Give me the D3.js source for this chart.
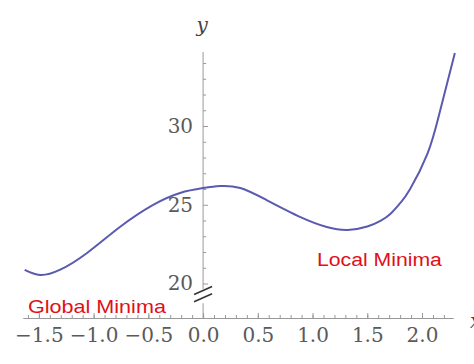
<!DOCTYPE html>
<html>
<head>
<meta charset="utf-8">
<script src="https://cdn.jsdelivr.net/npm/d3@7"></script>
<style>
    body { margin: 0; background: #fff; }
    .tick text { font-family: "DejaVu Serif", serif; font-size: 20px; fill: #5a5a5a; }
    .note { font-family: "Liberation Sans", Arial, sans-serif; fill: #e0101a; }
</style>
</head>
<body>
<svg id="vis"></svg>
<script>
// curve samples
var xValues = [-1.63, -1.49, -1.31, -1.06, -0.76, -0.46, -0.21, 0.0, 0.155, 0.34, 0.58, 0.89, 1.13, 1.32, 1.50, 1.62, 1.71, 1.80, 1.89, 2.05, 2.16, 2.30];
var yValues = [20.86, 20.54, 20.86, 21.94, 23.59, 24.98, 25.75, 26.06, 26.19, 26.06, 25.30, 24.22, 23.59, 23.40, 23.62, 23.98, 24.42, 25.10, 25.98, 28.25, 30.83, 34.63];

var xTicks = [-1.5, -1.0, -0.5, 0.0, 0.5, 1.0, 1.5, 2.0];
var yTicks = [20, 25, 30];
var notes = [
    {text: "Global Minima", x: -1.6, y: 18.13, size: 19, len: 138},
    {text: "Local Minima", x: 1.04, y: 21.1, size: 18, len: 125}
];

var width = 474, height = 364;

var svg = d3.select("#vis")
    .attr("width", width)
    .attr("height", height);

var xScale = d3.scaleLinear()
    .domain([-1.645, 2.283])
    .range([23, 453]);

var yScale = d3.scaleLinear()
    .domain([17.81, 34.7])
    .range([318, 52]);

var x0 = xScale(0);
var yBottom = yScale.range()[0];

// minor ticks x
svg.append("g")
    .attr("class", "x axis minor")
    .attr("transform", "translate(0," + yBottom + ")")
    .call(d3.axisBottom(xScale)
        .tickValues(d3.range(-16, 23).map(function (i) { return i / 10; }))
        .tickSizeInner(-3).tickSizeOuter(0).tickFormat(""));

svg.append("g")
    .attr("class", "x axis")
    .attr("transform", "translate(0," + yBottom + ")")
    .call(d3.axisBottom(xScale)
        .tickValues(xTicks)
        .tickSizeInner(-5).tickSizeOuter(0).tickPadding(10)
        .tickFormat(d3.format(".1f")));

svg.selectAll(".x.axis path.domain").attr("stroke", "#999");
svg.selectAll(".x.axis line").attr("stroke", "#999");

// y axis ticks (no domain, drawn with the break below)
var yMinor = d3.range(21, 35).filter(function (v) { return v % 5 !== 0; });

svg.append("g")
    .attr("class", "y axis minor")
    .attr("transform", "translate(" + x0 + ",0)")
    .call(d3.axisLeft(yScale).tickValues(yMinor)
        .tickSizeInner(-3).tickSizeOuter(0).tickFormat(""));

svg.append("g")
    .attr("class", "y axis")
    .attr("transform", "translate(" + x0 + ",0)")
    .call(d3.axisLeft(yScale).tickValues(yTicks)
        .tickSizeInner(-5).tickSizeOuter(0).tickPadding(10)
        .tickFormat(d3.format("d")));

svg.selectAll(".y.axis path.domain").remove();
svg.selectAll(".y.axis line").attr("stroke", "#999");

// y axis line with break
svg.append("line")
    .attr("x1", x0).attr("x2", x0)
    .attr("y1", yScale(34.7)).attr("y2", yScale(19.65))
    .attr("stroke", "#999");
svg.append("line")
    .attr("x1", x0).attr("x2", x0)
    .attr("y1", yScale(18.75)).attr("y2", yBottom)
    .attr("stroke", "#999");

[19.55, 19.1].forEach(function (v) {
    svg.append("line")
        .attr("x1", x0 - 9).attr("y1", yScale(v) + 4)
        .attr("x2", x0 + 9).attr("y2", yScale(v) - 4)
        .attr("stroke", "#333")
        .attr("stroke-width", 1.6);
});

// axis labels
svg.append("text")
    .attr("x", x0 - 1)
    .attr("y", 32)
    .attr("text-anchor", "middle")
    .style("font-family", "DejaVu Serif, serif")
    .style("font-style", "italic")
    .style("font-size", "20px")
    .style("fill", "#444")
    .text("y");

svg.append("text")
    .attr("x", 470)
    .attr("y", 328)
    .style("font-family", "DejaVu Serif, serif")
    .style("font-style", "italic")
    .style("font-size", "20px")
    .style("fill", "#444")
    .text("x");

// curve
var line = d3.line()
    .x(function (d, i) { return xScale(xValues[i]); })
    .y(function (d) { return yScale(d); })
    .curve(d3.curveNatural);

svg.append("path")
    .datum(yValues)
    .attr("fill", "none")
    .attr("stroke", "#5a5ab0")
    .attr("stroke-width", 2)
    .attr("d", line);

// annotations
svg.selectAll(".note")
    .data(notes)
    .enter().append("text")
    .attr("class", "note")
    .attr("x", function (d) { return xScale(d.x); })
    .attr("y", function (d) { return yScale(d.y); })
    .attr("textLength", function (d) { return d.len; })
    .attr("lengthAdjust", "spacingAndGlyphs")
    .style("font-size", function (d) { return d.size + "px"; })
    .text(function (d) { return d.text; });
</script>
</body>
</html>
